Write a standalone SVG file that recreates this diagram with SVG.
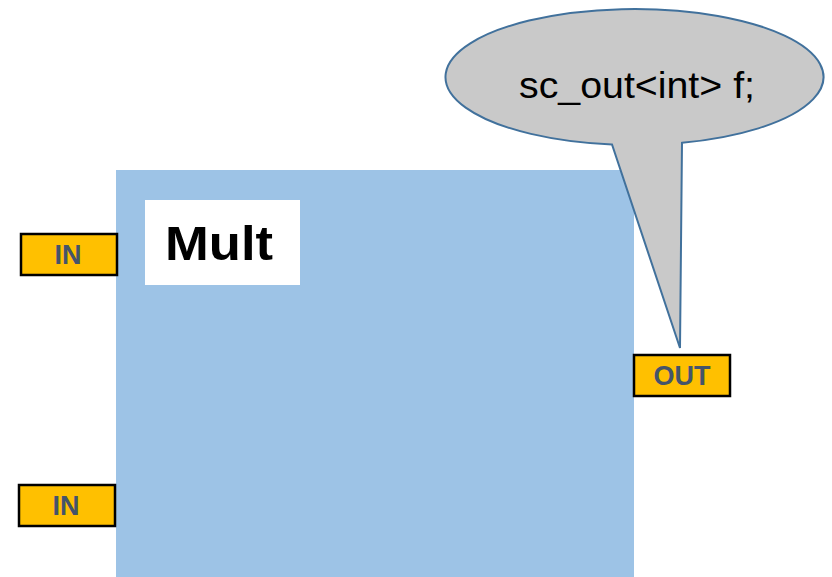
<svg xmlns="http://www.w3.org/2000/svg" width="832" height="577" viewBox="0 0 832 577">
  <style>
    .port { fill: #FFC000; stroke: #000000; stroke-width: 2.5; }
    .port-label { font-family: "Liberation Sans", Arial, sans-serif; font-weight: bold; font-size: 27px; fill: #44546A; text-anchor: middle; }
    .module { fill: #9DC3E6; }
    .callout { fill: #C9C9C9; stroke: #41719C; stroke-width: 2; stroke-linejoin: miter; }
  </style>
  <rect width="832" height="577" fill="#FFFFFF"/>

  <!-- module body -->
  <g id="mult">
    <rect class="module" x="116" y="170" width="518" height="407"/>
    <rect x="145" y="200" width="155" height="85" fill="#FFFFFF"/>
    <text x="165" y="260" font-family="Liberation Sans, Arial, sans-serif" font-weight="bold" font-size="49" textLength="108" lengthAdjust="spacingAndGlyphs" fill="#000000">Mult</text>
  </g>

  <!-- input ports -->
  <g id="in1">
    <rect class="port" x="21" y="234" width="96" height="41"/>
    <text class="port-label" x="68" y="264">IN</text>
  </g>
  <g id="in2">
    <rect class="port" x="19" y="485" width="96" height="41"/>
    <text class="port-label" x="66" y="515">IN</text>
  </g>

  <!-- output port -->
  <g id="out">
    <rect class="port" x="634" y="355" width="96" height="41"/>
    <text class="port-label" x="682" y="385">OUT</text>
  </g>

  <!-- speech bubble pointing at the output port -->
  <g id="note">
    <path class="callout" d="M612,144.5 A189,68 0 1 1 682,142.8 L680,348 Z"/>
    <text x="519" y="98" font-family="Liberation Sans, Arial, sans-serif" font-size="36" textLength="236" lengthAdjust="spacingAndGlyphs" fill="#000000">sc_out&lt;int&gt; f;</text>
  </g>

  <g id="connectors"/>
</svg>
